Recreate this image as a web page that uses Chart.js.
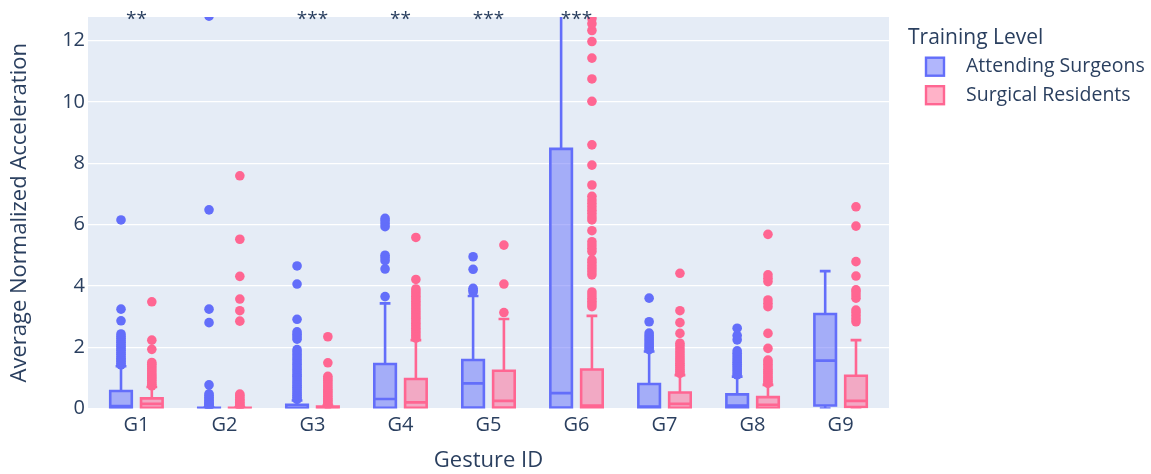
<!DOCTYPE html>
<html>
<head>
<meta charset="utf-8">
<title>Average Normalized Acceleration by Gesture</title>
<script src="https://cdn.jsdelivr.net/npm/chart.js@4.4.1/dist/chart.umd.min.js"></script>
<style>
  html, body { margin: 0; padding: 0; background: #ffffff; }
  #wrap { width: 1151px; height: 474px; position: relative; }
</style>
</head>
<body>
<div id="wrap"><canvas id="chart" width="1151" height="474"></canvas></div>
<script>
// ---- data ----
const gestures = ['G1', 'G2', 'G3', 'G4', 'G5', 'G6', 'G7', 'G8', 'G9'];
const significance = ['**', '', '***', '**', '***', '***', '', '', ''];
const yTicks = [0, 2, 4, 6, 8, 10, 12];

// Attending surgeons: box statistics per gesture
const attendingQ1     = [0, 0, 0, 0.02, 0.03, 0.03, 0.02, 0.02, 0.10];
const attendingMedian = [0.08, 0, 0.02, 0.31, 0.82, 0.50, 0.06, 0.10, 1.56];
const attendingQ3     = [0.57, 0.02, 0.12, 1.45, 1.58, 8.47, 0.80, 0.46, 3.08];
const attendingLower  = [0, 0, 0, 0, 0, 0, 0, 0, 0];
const attendingUpper  = [1.38, 0.04, 0.26, 3.43, 3.67, 13.4, 1.86, 1.04, 4.48];
const attendingOutliers = [
  [1.42, 1.47, 1.53, 1.58, 1.64, 1.70, 1.77, 1.83, 1.90, 1.96, 2.03, 2.09, 2.16, 2.22, 2.29, 2.36, 2.43, 2.86, 3.24, 6.15],
  [0.06, 0.09, 0.13, 0.17, 0.21, 0.26, 0.31, 0.36, 0.42, 0.48, 0.77, 2.80, 3.24, 6.48, 12.8],
  [0.30, 0.36, 0.42, 0.48, 0.55, 0.62, 0.69, 0.76, 0.83, 0.90, 0.97, 1.05, 1.12, 1.20, 1.28, 1.36, 1.44, 1.52, 1.60, 1.68, 1.76, 1.84, 1.92, 2.26, 2.34, 2.42, 2.50, 2.91, 4.06, 4.65],
  [3.65, 4.55, 4.82, 4.92, 5.00, 5.93, 6.03, 6.12, 6.20],
  [3.80, 3.86, 3.92, 4.54, 4.95],
  [],
  [1.92, 1.98, 2.04, 2.10, 2.17, 2.24, 2.31, 2.38, 2.46, 2.83, 3.60],
  [1.10, 1.16, 1.23, 1.30, 1.37, 1.44, 1.51, 1.58, 1.65, 1.72, 1.80, 1.88, 2.24, 2.38, 2.62],
  []
];

// Surgical residents: box statistics per gesture
const residentQ1     = [0.02, 0, 0, 0.02, 0.03, 0.02, 0.02, 0.02, 0.05];
const residentMedian = [0.15, 0, 0.01, 0.20, 0.25, 0.10, 0.15, 0.12, 0.25];
const residentQ3     = [0.33, 0.02, 0.06, 0.96, 1.23, 1.27, 0.52, 0.37, 1.07];
const residentLower  = [0, 0, 0, 0, 0, 0, 0, 0, 0];
const residentUpper  = [0.70, 0.04, 0.10, 2.23, 2.92, 3.02, 1.09, 0.77, 2.23];
const residentOutliers = [
  [0.74, 0.79, 0.85, 0.91, 0.97, 1.03, 1.09, 1.16, 1.23, 1.30, 1.37, 1.44, 1.50, 1.93, 2.23, 3.48],
  [0.07, 0.11, 0.15, 0.20, 0.25, 0.30, 0.36, 0.42, 0.47, 2.85, 3.19, 3.57, 4.31, 5.52, 7.59],
  [0.12, 0.17, 0.22, 0.27, 0.33, 0.39, 0.45, 0.51, 0.57, 0.63, 0.70, 0.77, 0.84, 0.91, 0.98, 1.05, 1.49, 2.34],
  [2.30, 2.38, 2.46, 2.54, 2.62, 2.70, 2.78, 2.86, 2.94, 3.02, 3.10, 3.18, 3.26, 3.34, 3.42, 3.50, 3.58, 3.66, 3.74, 3.82, 3.90, 4.21, 5.58],
  [3.13, 4.06, 5.33],
  [3.32, 3.41, 3.50, 3.60, 3.70, 3.80, 4.36, 4.46, 4.56, 4.66, 4.76, 4.85, 5.12, 5.22, 5.33, 5.44, 5.80, 6.15, 6.25, 6.36, 6.47, 6.58, 6.69, 6.80, 6.92, 7.29, 7.94, 8.60, 10.02, 10.75, 11.43, 11.97, 12.33, 12.55, 12.72],
  [1.15, 1.21, 1.27, 1.34, 1.41, 1.48, 1.55, 1.62, 1.70, 1.78, 1.86, 1.95, 2.05, 2.13, 2.45, 2.80, 3.19, 4.41],
  [0.82, 0.88, 0.94, 1.00, 1.07, 1.14, 1.21, 1.28, 1.36, 1.44, 1.52, 1.58, 1.96, 2.45, 3.32, 3.43, 3.54, 4.14, 4.25, 4.36, 5.68],
  [2.83, 2.93, 3.03, 3.13, 3.21, 3.60, 3.70, 3.80, 3.87, 4.32, 4.79, 5.95, 6.58]
];

// ---- styling ----
const FONT = "'Open Sans', verdana, arial, sans-serif";
const TEXT = '#2a3f5f';
const BOX_WIDTH = 0.245;     // in category units
const GROUP_OFFSET = 0.175;  // box centre offset from category centre
const CAP_WIDTH = 0.1225;    // whisker cap width
const LINE_W = 2.6;
const Y_MAX = 12.77;

const series = [
  { name: 'Attending Surgeons', color: '#636efa', fill: 'rgba(99,110,250,0.5)', legendFill: 'rgba(99,110,250,0.5)',
    offset: -GROUP_OFFSET, q1: attendingQ1, med: attendingMedian, q3: attendingQ3,
    lo: attendingLower, hi: attendingUpper, outliers: attendingOutliers },
  { name: 'Surgical Residents', color: '#ff6692', fill: 'rgba(255,102,146,0.5)', legendFill: 'rgba(255,102,146,0.5)',
    offset: GROUP_OFFSET, q1: residentQ1, med: residentMedian, q3: residentQ3,
    lo: residentLower, hi: residentUpper, outliers: residentOutliers }
];

// outlier points become ordinary scatter datasets
const datasets = series.map(s => ({
  label: s.name,
  data: s.outliers.flatMap((vals, i) => vals.map(v => ({ x: i + s.offset, y: v }))),
  backgroundColor: s.color,
  borderWidth: 0,
  pointRadius: 4.8,
  pointHoverRadius: 4.8,
  clip: 0
}));

// plot background
const plotBackground = {
  id: 'plotBackground',
  beforeDraw(chart) {
    const { ctx, chartArea: a } = chart;
    ctx.save();
    ctx.fillStyle = '#e5ecf6';
    ctx.fillRect(a.left, a.top, a.right - a.left, a.bottom - a.top);
    ctx.restore();
  }
};

// boxes, medians and whiskers
const boxPlot = {
  id: 'boxPlot',
  beforeDatasetsDraw(chart) {
    const { ctx, chartArea: a, scales: { x, y } } = chart;
    ctx.save();
    ctx.beginPath();
    ctx.rect(a.left, a.top, a.right - a.left, a.bottom - a.top);
    ctx.clip();
    series.forEach(s => {
      gestures.forEach((g, i) => {
        const c = i + s.offset;
        const xc = x.getPixelForValue(c);
        const xl = x.getPixelForValue(c - BOX_WIDTH / 2);
        const xr = x.getPixelForValue(c + BOX_WIDTH / 2);
        const cl = x.getPixelForValue(c - CAP_WIDTH / 2);
        const cr = x.getPixelForValue(c + CAP_WIDTH / 2);
        const yq1 = y.getPixelForValue(s.q1[i]);
        const yq3 = y.getPixelForValue(s.q3[i]);
        const ymed = y.getPixelForValue(s.med[i]);
        const ylo = y.getPixelForValue(s.lo[i]);
        const yhi = y.getPixelForValue(s.hi[i]);

        ctx.fillStyle = s.fill;
        ctx.fillRect(xl, yq3, xr - xl, yq1 - yq3);

        ctx.strokeStyle = s.color;
        ctx.lineWidth = LINE_W;
        ctx.lineJoin = 'miter';
        ctx.beginPath();
        ctx.rect(xl, yq3, xr - xl, yq1 - yq3);
        ctx.moveTo(xl, ymed); ctx.lineTo(xr, ymed);
        ctx.moveTo(xc, yq3); ctx.lineTo(xc, yhi);
        ctx.moveTo(cl, yhi); ctx.lineTo(cr, yhi);
        ctx.moveTo(xc, yq1); ctx.lineTo(xc, ylo);
        ctx.moveTo(cl, ylo); ctx.lineTo(cr, ylo);
        ctx.stroke();
      });
    });
    ctx.restore();
  }
};

// significance markers and legend
const overlay = {
  id: 'overlay',
  afterDraw(chart) {
    const { ctx, chartArea: a, scales: { x } } = chart;
    ctx.save();
    ctx.fillStyle = TEXT;
    ctx.font = '19px ' + FONT;
    ctx.textAlign = 'center';
    ctx.textBaseline = 'alphabetic';
    significance.forEach((t, i) => {
      if (t) ctx.fillText(t, x.getPixelForValue(i), a.top + 8);
    });

    // legend
    const lx = a.right + 19;
    ctx.textAlign = 'left';
    ctx.font = '21px ' + FONT;
    ctx.fillText('Training Level', lx, 43.5);
    ctx.font = '19.5px ' + FONT;
    series.forEach((s, k) => {
      const cy = 66.7 + k * 28.5;
      ctx.fillStyle = '#ffffff';
      ctx.fillRect(lx + 18, cy - 9, 18, 18);
      ctx.fillStyle = s.legendFill;
      ctx.fillRect(lx + 18, cy - 9, 18, 18);
      ctx.strokeStyle = s.color;
      ctx.lineWidth = 2.4;
      ctx.strokeRect(lx + 18, cy - 9, 18, 18);
      ctx.fillStyle = TEXT;
      ctx.textBaseline = 'middle';
      ctx.fillText(s.name, lx + 58, cy);
    });
    ctx.restore();
  }
};

Chart.defaults.font.family = FONT;
Chart.defaults.color = TEXT;

new Chart(document.getElementById('chart'), {
  type: 'scatter',
  data: { datasets },
  options: {
    responsive: false,
    animation: false,
    devicePixelRatio: 1,
    layout: { padding: { top: 17, right: 262, left: 0, bottom: 0 } },
    plugins: {
      legend: { display: false },
      tooltip: { enabled: false }
    },
    scales: {
      x: {
        type: 'linear',
        min: -0.55,
        max: 8.55,
        grid: { display: false, drawTicks: false },
        border: { display: false },
        afterBuildTicks: scale => { scale.ticks = gestures.map((g, i) => ({ value: i })); },
        afterFit: scale => { scale.height = 65.5; },
        ticks: {
          padding: 5,
          maxRotation: 0,
          autoSkip: false,
          font: { size: 20 },
          color: TEXT,
          callback: v => gestures[v]
        },
        title: {
          display: true,
          text: 'Gesture ID',
          font: { size: 22 },
          color: TEXT,
          padding: { top: 0, bottom: 0 }
        }
      },
      y: {
        type: 'linear',
        min: 0,
        max: Y_MAX,
        grid: {
          color: '#ffffff',
          lineWidth: ctx => (ctx.tick && ctx.tick.value === 0 ? 2 : 1.2),
          drawTicks: false
        },
        border: { display: false },
        afterBuildTicks: scale => { scale.ticks = yTicks.map(v => ({ value: v })); },
        afterFit: scale => { scale.width = 88; },
        ticks: {
          padding: 3,
          font: { size: 20 },
          color: TEXT,
          callback: v => String(v)
        },
        title: {
          display: true,
          text: 'Average Normalized Acceleration',
          font: { size: 22 },
          color: TEXT,
          padding: { top: 7, bottom: 0 }
        }
      }
    }
  },
  plugins: [plotBackground, boxPlot, overlay]
});
</script>
</body>
</html>
